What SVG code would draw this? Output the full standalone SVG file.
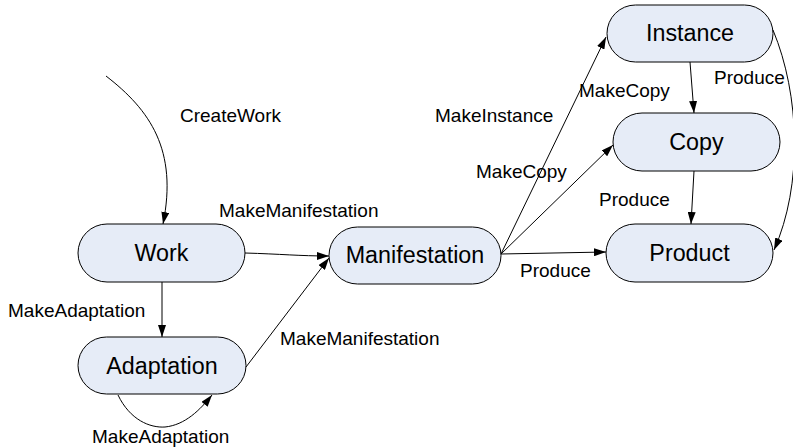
<svg xmlns="http://www.w3.org/2000/svg" width="793" height="448" viewBox="0 0 793 448">
<defs>
<style>
.node{fill:#E6ECF7;stroke:#000;stroke-width:1}
.nt{font-family:"Liberation Sans",Arial,sans-serif;font-size:23.3px;fill:#000;text-anchor:middle}
.el{font-family:"Liberation Sans",Arial,sans-serif;font-size:19px;fill:#000}
.c{fill:none;stroke:#000;stroke-width:1}
</style>
<marker id="ah" viewBox="0 0 12 8" refX="12" refY="4" markerWidth="12" markerHeight="8" markerUnits="userSpaceOnUse" orient="auto">
<path d="M0,0 L12,4 L0,8 Z" fill="#000"/>
</marker>
</defs>
<rect width="793" height="448" fill="#fff"/>
<g id="connectors">
<path class="c" marker-end="url(#ah)" d="M106,76 C150,110 178,150 163,224"/>
<path class="c" marker-end="url(#ah)" d="M245,253 C280,254 300,256 329,256"/>
<path class="c" marker-end="url(#ah)" d="M162,282 L162,337"/>
<path class="c" marker-end="url(#ah)" d="M246,367 L329,258"/>
<path class="c" marker-end="url(#ah)" d="M118,395 C130,420 150,428 165,427 C185,425 200,410 212,395"/>
<path class="c" marker-end="url(#ah)" d="M501,254 L606,37"/>
<path class="c" marker-end="url(#ah)" d="M501,254 L613,145"/>
<path class="c" marker-end="url(#ah)" d="M501,254 L606,252"/>
<path class="c" marker-end="url(#ah)" d="M690,62 L694,113"/>
<path class="c" marker-end="url(#ah)" d="M694,171 L691,224"/>
<path class="c" marker-end="url(#ah)" d="M773,30 C800,95 803,185 774,250"/>
<text class="el" x="180" y="122">CreateWork</text>
<text class="el" x="219" y="217">MakeManifestation</text>
<text class="el" x="8" y="317">MakeAdaptation</text>
<text class="el" x="280" y="345">MakeManifestation</text>
<text class="el" x="92" y="443">MakeAdaptation</text>
<text class="el" x="435" y="122">MakeInstance</text>
<text class="el" x="476" y="178">MakeCopy</text>
<text class="el" x="579" y="97">MakeCopy</text>
<text class="el" x="714" y="84">Produce</text>
<text class="el" x="599" y="206">Produce</text>
<text class="el" x="520" y="277">Produce</text>
</g>
<g id="work"><rect class="node" x="78" y="224" width="167" height="58" rx="29"/><text class="nt" x="161.5" y="261">Work</text></g>
<g id="adaptation"><rect class="node" x="78" y="337" width="168" height="57" rx="28.5"/><text class="nt" x="162" y="374">Adaptation</text></g>
<g id="manifestation"><rect class="node" x="329" y="227" width="172" height="57" rx="28.5"/><text class="nt" x="415" y="263">Manifestation</text></g>
<g id="instance"><rect class="node" x="607" y="5" width="166" height="57" rx="28.5"/><text class="nt" x="690" y="41">Instance</text></g>
<g id="copy"><rect class="node" x="613" y="113" width="167" height="58" rx="29"/><text class="nt" x="696.5" y="150">Copy</text></g>
<g id="product"><rect class="node" x="606" y="224" width="167" height="58" rx="29"/><text class="nt" x="689.5" y="261">Product</text></g>
</svg>
